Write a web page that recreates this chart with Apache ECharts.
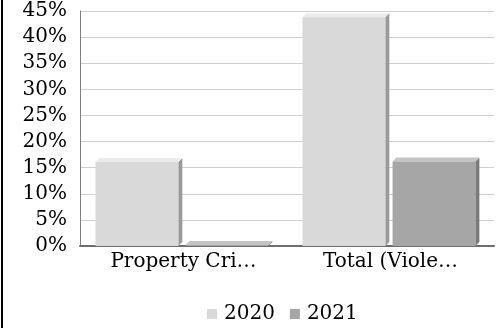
<!DOCTYPE html>
<html><head><meta charset="utf-8">
<script src="https://cdn.jsdelivr.net/npm/echarts@6/dist/echarts.min.js"></script>
<style>html,body{margin:0;padding:0;background:#fff}#c{width:504px;height:328px}</style>
</head><body><div id="c"></div>
<script>
const categories = ['Property Crime', 'Total (Violent + Property)'];
const seriesNames = ['2020', '2021'];
const values2020 = [16.1, 43.8];
const values2021 = [0.2, 16.2];
const yTicks = [0, 5, 10, 15, 20, 25, 30, 35, 40, 45];

const palette = {
  '2020': {front: '#d9d9d9', top: '#ebebeb', side: '#9a9a9a'},
  '2021': {front: '#a6a6a6', top: '#c4c4c4', side: '#7a7a7a'}
};
const FONT = 'DejaVu Serif';

function makeRender(sIdx, name) {
  const c = palette[name];
  return function (params, api) {
    const cat = api.value(0), v = api.value(1);
    const top = api.coord([cat, v]);
    const base = api.coord([cat, 0]);
    const band = api.size([1, 0])[0];
    const w = band * 0.4;
    const x0 = top[0] + (sIdx === 0 ? -0.425 * band : 0.01 * band);
    const y = top[1], yb = base[1], d = 4;
    return {
      type: 'group',
      children: [
        {type: 'polygon', shape: {points: [[x0 + w, y], [x0 + w + d, y - d], [x0 + w + d, yb - d], [x0 + w, yb]]}, style: {fill: c.side}},
        {type: 'polygon', shape: {points: [[x0, y], [x0 + d, y - d], [x0 + w + d, y - d], [x0 + w, y]]}, style: {fill: c.top}},
        {type: 'rect', shape: {x: x0, y: y, width: w, height: Math.max(yb - y, 0)}, style: {fill: c.front}}
      ]
    };
  };
}

const chart = echarts.init(document.getElementById('c'), null, {renderer: 'canvas'});
chart.setOption({
  animation: false,
  backgroundColor: '#fff',
  grid: {left: 80, right: 10, top: 11, bottom: 82, containLabel: false},
  graphic: [{type: 'rect', left: 1, top: 0, shape: {width: 2, height: 328}, style: {fill: '#000'}}],
  legend: {
    top: 299, left: 202, icon: 'rect', itemWidth: 10, itemHeight: 10, itemGap: 15,
    textStyle: {fontFamily: FONT, fontSize: 20, color: '#000', padding: [0, 0, 0, 2]},
    data: seriesNames
  },
  xAxis: {
    type: 'category', data: categories,
    axisLine: {show: true, lineStyle: {color: '#6e6e6e', width: 2}},
    axisTick: {show: false},
    axisLabel: {
      fontFamily: FONT, fontSize: 20, color: '#000', margin: 6,
      formatter: n => n.length > 12 ? n.slice(0, 12) + '…' : n
    }
  },
  yAxis: {
    type: 'value', min: 0, max: 45, interval: 5,
    axisLine: {show: true, lineStyle: {color: '#7f7f7f', width: 1}},
    axisTick: {show: false},
    splitLine: {lineStyle: {color: '#cfcfcf', width: 1}},
    axisLabel: {
      fontFamily: FONT, fontSize: 20, color: '#000', margin: 13,
      formatter: v => yTicks.includes(v) ? v + '%' : ''
    }
  },
  series: [
    {name: seriesNames[0], type: 'custom', itemStyle: {color: palette['2020'].front},
     renderItem: makeRender(0, '2020'), encode: {x: 0, y: 1},
     data: values2020.map((v, i) => [i, v])},
    {name: seriesNames[1], type: 'custom', itemStyle: {color: palette['2021'].front},
     renderItem: makeRender(1, '2021'), encode: {x: 0, y: 1},
     data: values2021.map((v, i) => [i, v])}
  ]
});
</script></body></html>
